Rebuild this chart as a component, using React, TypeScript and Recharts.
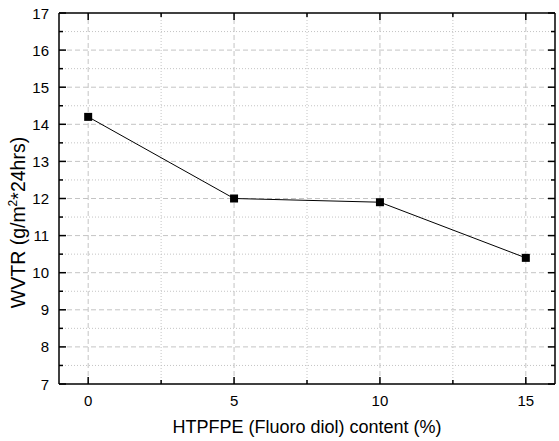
import React from "react";
import { LineChart, Line, XAxis, YAxis, ReferenceLine, Label } from "recharts";

// HTPFPE content (%) vs WVTR
const contents = [0, 5, 10, 15];
const wvtr = [14.2, 12.0, 11.9, 10.4];

const xMajorTicks = [0, 5, 10, 15];
const xMinorTicks = [2.5, 7.5, 12.5];
const yMajorTicks = [7, 8, 9, 10, 11, 12, 13, 14, 15, 16, 17];
const yMinorTicks = [7.5, 8.5, 9.5, 10.5, 11.5, 12.5, 13.5, 14.5, 15.5, 16.5];

const data = contents.map((c, i) => ({ x: c, y: wvtr[i] }));
const xAllTicks = [...xMajorTicks, ...xMinorTicks].sort((a, b) => a - b);
const yAllTicks = [...yMajorTicks, ...yMinorTicks].sort((a, b) => a - b);

const FONT = "'Liberation Sans', Arial, sans-serif";
const GRID = "#c4c4c4";
const MAJOR = 7;
const MINOR = 4;

const isMajorX = (v: number) => xMajorTicks.includes(v);
const isMajorY = (v: number) => yMajorTicks.includes(v);

const BottomTick = (props: any) => {
    const { x, y, payload } = props;
    const major = isMajorX(payload.value);
    return (
        <g>
            <line x1={x} x2={x} y1={y} y2={y - (major ? MAJOR : MINOR)} stroke="#000" strokeWidth={1.5} />
            {major && (
                <text x={x} y={y + 22} textAnchor="middle" fontSize={15} fontFamily={FONT} fill="#000">
                    {payload.value}
                </text>
            )}
        </g>
    );
};

const TopTick = (props: any) => {
    const { x, y, payload } = props;
    const major = isMajorX(payload.value);
    return <line x1={x} x2={x} y1={y} y2={y + (major ? MAJOR : MINOR)} stroke="#000" strokeWidth={1.5} />;
};

const LeftTick = (props: any) => {
    const { x, y, payload } = props;
    const major = isMajorY(payload.value);
    return (
        <g>
            <line x1={x} x2={x + (major ? MAJOR : MINOR)} y1={y} y2={y} stroke="#000" strokeWidth={1.5} />
            {major && (
                <text x={x - 10} y={y + 5.5} textAnchor="end" fontSize={15} fontFamily={FONT} fill="#000">
                    {payload.value}
                </text>
            )}
        </g>
    );
};

const RightTick = (props: any) => {
    const { x, y, payload } = props;
    const major = isMajorY(payload.value);
    return <line x1={x} x2={x - (major ? MAJOR : MINOR)} y1={y} y2={y} stroke="#000" strokeWidth={1.5} />;
};

const SquareDot = (props: any) => {
    const { cx, cy, index } = props;
    if (cx == null || cy == null) return null;
    return <rect key={`dot-${index}`} x={cx - 4} y={cy - 4} width={8} height={8} fill="#000" />;
};

const renderXLabel = (props: any) => {
    const vb = props.viewBox || { x: 59, y: 384, width: 496, height: 30 };
    return (
        <text x={vb.x + vb.width / 2} y={vb.y + 49} textAnchor="middle" fontSize={18} fontFamily={FONT} fill="#000">
            HTPFPE (Fluoro diol) content (%)
        </text>
    );
};

const renderYLabel = (props: any) => {
    const vb = props.viewBox || { x: 19, y: 13, width: 40, height: 371 };
    const cx = 25;
    const cy = vb.y + vb.height / 2 + 24;
    return (
        <text
            x={cx}
            y={cy}
            transform={`rotate(-90, ${cx}, ${cy})`}
            textAnchor="middle"
            fontSize={19.5}
            fontFamily={FONT}
            fill="#000"
        >
            <tspan>WVTR (g/m</tspan>
            <tspan fontSize={12} dy={-8}>2</tspan>
            <tspan dy={8}>*24hrs)</tspan>
        </text>
    );
};

const axisLine = { stroke: "#000", strokeWidth: 1.5 };

export default function App() {
    return (
        <div style={{ position: "absolute", left: 0, top: 0, background: "#fff" }}>
            <LineChart width={559} height={441} data={data} margin={{ top: 12, right: 3, bottom: 27, left: 19 }}>
                {xMajorTicks.map((v) => (
                    <ReferenceLine key={`vx-${v}`} x={v} stroke={GRID} strokeDasharray="5 3" />
                ))}
                {xMinorTicks.map((v) => (
                    <ReferenceLine key={`vn-${v}`} x={v} stroke={GRID} strokeDasharray="1 2" />
                ))}
                {yMajorTicks
                    .filter((v) => v > 7 && v < 17)
                    .map((v) => (
                        <ReferenceLine key={`hy-${v}`} y={v} stroke={GRID} strokeDasharray="5 3" />
                    ))}
                {yMinorTicks.map((v) => (
                    <ReferenceLine key={`hn-${v}`} y={v} stroke={GRID} strokeDasharray="1 2" />
                ))}
                <XAxis
                    dataKey="x"
                    type="number"
                    domain={[-1, 16]}
                    ticks={xAllTicks}
                    interval={0}
                    tickSize={0}
                    tickMargin={0}
                    tickLine={false}
                    axisLine={axisLine}
                    tick={BottomTick}
                    height={30}
                    allowDataOverflow
                >
                    <Label content={renderXLabel} />
                </XAxis>
                <XAxis
                    xAxisId="top"
                    orientation="top"
                    dataKey="x"
                    type="number"
                    domain={[-1, 16]}
                    ticks={xAllTicks}
                    interval={0}
                    tickSize={0}
                    tickMargin={0}
                    tickLine={false}
                    axisLine={axisLine}
                    tick={TopTick}
                    height={1}
                    allowDataOverflow
                />
                <YAxis
                    type="number"
                    domain={[7, 17]}
                    ticks={yAllTicks}
                    interval={0}
                    tickSize={0}
                    tickMargin={0}
                    tickLine={false}
                    axisLine={axisLine}
                    tick={LeftTick}
                    width={40}
                    allowDataOverflow
                >
                    <Label content={renderYLabel} />
                </YAxis>
                <YAxis
                    yAxisId="right"
                    orientation="right"
                    type="number"
                    domain={[7, 17]}
                    ticks={yAllTicks}
                    interval={0}
                    tickSize={0}
                    tickMargin={0}
                    tickLine={false}
                    axisLine={axisLine}
                    tick={RightTick}
                    width={1}
                    allowDataOverflow
                />
                <Line
                    type="linear"
                    dataKey="y"
                    stroke="#000"
                    strokeWidth={1}
                    dot={SquareDot}
                    activeDot={false}
                    isAnimationActive={false}
                />
            </LineChart>
        </div>
    );
}
